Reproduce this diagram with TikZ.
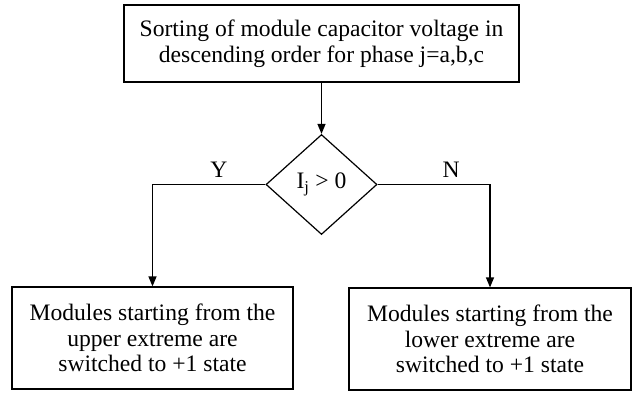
\documentclass[tikz,border=0pt]{standalone}
\usepackage{fontspec}
\setmainfont{Liberation Serif}
\usetikzlibrary{shapes.geometric,arrows.meta}
\begin{document}
\begin{tikzpicture}[x=1pt, y=1pt, font=\fontsize{23.6}{25.5}\selectfont,
    box/.style={draw, line width=1.2pt, align=center, inner sep=0pt},
    flow/.style={line width=1.2pt, -{Triangle[width=8pt, length=10pt]}},
    tag/.style={inner sep=0pt, above=6pt}]
  \useasboundingbox (0,0) rectangle (637,-393);
  \node[box, minimum width=395, minimum height=77] (sort) at (321.5,-43.5)
    {Sorting of module capacitor voltage in\\ descending order for phase j=a,b,c};
  \node[box, diamond, minimum width=111, minimum height=100] (test) at (321.5,-184.5)
    {I\textsubscript{j} > 0};
  \node[box, minimum width=281, minimum height=102] (upper) at (152.5,-338)
    {Modules starting from the\\ upper extreme are\\ switched to +1 state};
  \node[box, minimum width=282, minimum height=102] (lower) at (490,-339)
    {Modules starting from the\\ lower extreme are\\ switched to +1 state};
  \draw[flow] (sort) -- (test);
  \draw[flow] (test.west) -| node[pos=0.206, tag] (yes) {Y} (upper);
  \draw[flow] (test.east) -| node[pos=0.327, tag] (no) {N} (lower);
\end{tikzpicture}
\end{document}
